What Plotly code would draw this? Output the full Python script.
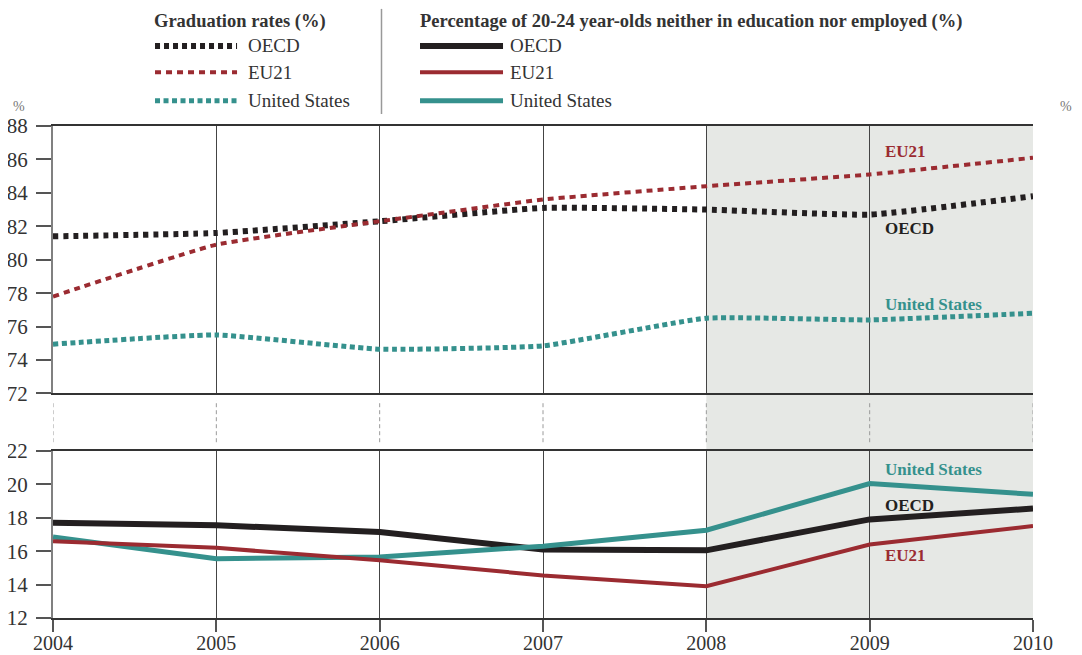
import plotly.graph_objects as go

# ---------------- data ----------------
years = [2004, 2005, 2006, 2007, 2008, 2009, 2010]

grad_oecd = [81.4, 81.6, 82.3, 83.1, 83.0, 82.7, 83.8]
grad_eu21 = [77.8, 80.9, 82.3, 83.6, 84.4, 85.1, 86.1]
grad_us = [74.95, 75.5, 74.65, 74.85, 76.5, 76.4, 76.8]

neet_oecd = [17.7, 17.55, 17.15, 16.1, 16.05, 17.9, 18.55]
neet_eu21 = [16.6, 16.2, 15.45, 14.55, 13.9, 16.4, 17.5]
neet_us = [16.85, 15.55, 15.65, 16.3, 17.25, 20.05, 19.4]

top_ticks = [72, 74, 76, 78, 80, 82, 84, 86, 88]
bottom_ticks = [12, 14, 16, 18, 20, 22]

legend_title_left = "Graduation rates (%)"
legend_title_right = "Percentage of 20-24 year-olds neither in education nor employed (%)"
series_names = ["OECD", "EU21", "United States"]

# ---------------- style ----------------
BLACK = "#231f20"
RED = "#9b2b31"
TEAL = "#35918d"
SHADE = "#e6e8e5"
FONT = "Liberation Serif"
TXT = "#333333"

fig = go.Figure()

# top panel (graduation rates) - dotted lines
top_styles = [
    (grad_oecd, BLACK, 6, "5px,5px"),
    (grad_eu21, RED, 4, "6px,5px"),
    (grad_us, TEAL, 5, "5px,3.5px"),
]
for vals, col, w, dash in top_styles:
    fig.add_trace(go.Scatter(
        x=years, y=vals, mode="lines", xaxis="x", yaxis="y",
        line=dict(color=col, width=w, dash=dash, shape="spline", smoothing=0.4),
        showlegend=False, hoverinfo="skip"))

# bottom panel (NEET) - solid lines
bottom_styles = [
    (neet_oecd, BLACK, 6),
    (neet_us, TEAL, 5),
    (neet_eu21, RED, 4),
]
for vals, col, w in bottom_styles:
    fig.add_trace(go.Scatter(
        x=years, y=vals, mode="lines", xaxis="x2", yaxis="y2",
        line=dict(color=col, width=w),
        showlegend=False, hoverinfo="skip"))

TOP_DOM = [0.4564, 1.0]
BOT_DOM = [0.0, 0.3396]

tickfont = dict(family=FONT, size=21, color=TXT)

common_y = dict(
    ticks="outside", ticklen=15, tickwidth=1.5, tickcolor="#555555",
    showgrid=False, zeroline=False, showline=True, linecolor="#808080",
    linewidth=2, tickfont=tickfont, ticklabelstandoff=4, automargin=False,
)

shapes = []
# shaded period 2008-2010
shapes.append(dict(type="rect", xref="x", yref="paper", x0=years[4], x1=years[-1],
                   y0=0, y1=1, fillcolor=SHADE, line=dict(width=0), layer="below"))
# dashed connectors between panels
for yr in years:
    shapes.append(dict(type="line", xref="x", yref="paper", x0=yr, x1=yr,
                       y0=0.3573, y1=0.4428,
                       line=dict(color="#9a9a9a", width=1, dash="4px,3px")))

# legend samples
left_dashes = [(BLACK, 6, "5px,4px"), (RED, 4, "6px,5px"), (TEAL, 5, "5px,3.5px")]
right_widths = [(BLACK, 6), (RED, 4), (TEAL, 5)]
rows = [1.1627, 1.1090, 1.0515]
annotations = []
for i, name in enumerate(series_names):
    col, w, d = left_dashes[i]
    shapes.append(dict(type="line", xref="paper", yref="paper", x0=0.1041, x1=0.1878,
                       y0=rows[i], y1=rows[i], line=dict(color=col, width=w, dash=d)))
    col2, w2 = right_widths[i]
    shapes.append(dict(type="line", xref="paper", yref="paper", x0=0.3745, x1=0.4592,
                       y0=rows[i], y1=rows[i], line=dict(color=col2, width=w2)))
    annotations.append(dict(xref="paper", yref="paper", x=0.1969, y=rows[i], text=name,
                            showarrow=False, xanchor="left", yanchor="middle",
                            font=dict(family=FONT, size=19, color=TXT)))
    annotations.append(dict(xref="paper", yref="paper", x=0.4643, y=rows[i], text=name,
                            showarrow=False, xanchor="left", yanchor="middle",
                            font=dict(family=FONT, size=19, color=TXT)))

# separator
shapes.append(dict(type="line", xref="paper", yref="paper", x0=0.3352, x1=0.3352,
                   y0=1.0244, y1=1.238, line=dict(color="#999999", width=1.5)))

annotations.append(dict(xref="paper", yref="paper", x=0.1010, y=1.2134,
                        text="<b>" + legend_title_left + "</b>", showarrow=False,
                        xanchor="left", yanchor="middle",
                        font=dict(family=FONT, size=18.5, color=TXT)))
annotations.append(dict(xref="paper", yref="paper", x=0.3724, y=1.2134,
                        text="<b>" + legend_title_right + "</b>", showarrow=False,
                        xanchor="left", yanchor="middle",
                        font=dict(family=FONT, size=18.5, color=TXT)))

# % unit labels
for xp in (-0.0347, 1.0337):
    annotations.append(dict(xref="paper", yref="paper", x=xp, y=1.0406, text="%",
                            showarrow=False, xanchor="center", yanchor="middle",
                            font=dict(family=FONT, size=14, color="#777777")))

# inline labels
inline = [
    ("x", "y", 86.45, "EU21", RED),
    ("x", "y", 81.85, "OECD", BLACK),
    ("x", "y", 77.35, "United States", TEAL),
    ("x2", "y2", 20.9, "United States", TEAL),
    ("x2", "y2", 18.75, "OECD", BLACK),
    ("x2", "y2", 15.75, "EU21", RED),
]
for xr, yr, yv, txt, col in inline:
    annotations.append(dict(xref=xr, yref=yr, x=years[5] + 0.08, y=yv,
                            text="<b>" + txt + "</b>", showarrow=False,
                            xanchor="left", yanchor="middle",
                            font=dict(family=FONT, size=17, color=col)))

# the page places the figure 8px from the top-left corner; compensate
fig.update_layout(
    width=1082, height=655,
    margin=dict(l=45, r=57, t=118, b=45.3, autoexpand=False),
    paper_bgcolor="white", plot_bgcolor="rgba(0,0,0,0)",
    showlegend=False,
    xaxis=dict(domain=[0, 1], anchor="y", range=[years[0], years[-1]],
               tickvals=years, showticklabels=False, ticks="",
               showgrid=True, gridcolor="#444444", gridwidth=1,
               showline=True, mirror=True, linecolor="#333333", linewidth=1.5,
               zeroline=False, automargin=False),
    xaxis2=dict(domain=[0, 1], anchor="y2", range=[years[0], years[-1]],
                tickvals=years, ticktext=[str(y) for y in years],
                ticks="outside", ticklen=12, tickwidth=1.5, tickcolor="#555555",
                showgrid=True, gridcolor="#444444", gridwidth=1,
                showline=True, mirror=True, linecolor="#333333", linewidth=1.5,
                zeroline=False, tickfont=dict(family=FONT, size=20, color=TXT),
                ticklabelstandoff=-6, automargin=False),
    yaxis=dict(domain=TOP_DOM, anchor="x", range=[72, 88], tickvals=top_ticks,
               side="left", **common_y),
    yaxis3=dict(domain=TOP_DOM, anchor="x", overlaying="y", range=[72, 88],
                tickvals=top_ticks, side="right", **common_y),
    yaxis2=dict(domain=BOT_DOM, anchor="x2", range=[12, 22], tickvals=bottom_ticks,
                side="left", **common_y),
    yaxis4=dict(domain=BOT_DOM, anchor="x2", overlaying="y2", range=[12, 22],
                tickvals=bottom_ticks, side="right", **common_y),
    shapes=shapes,
    annotations=annotations,
)

fig.write_html("out.html")
